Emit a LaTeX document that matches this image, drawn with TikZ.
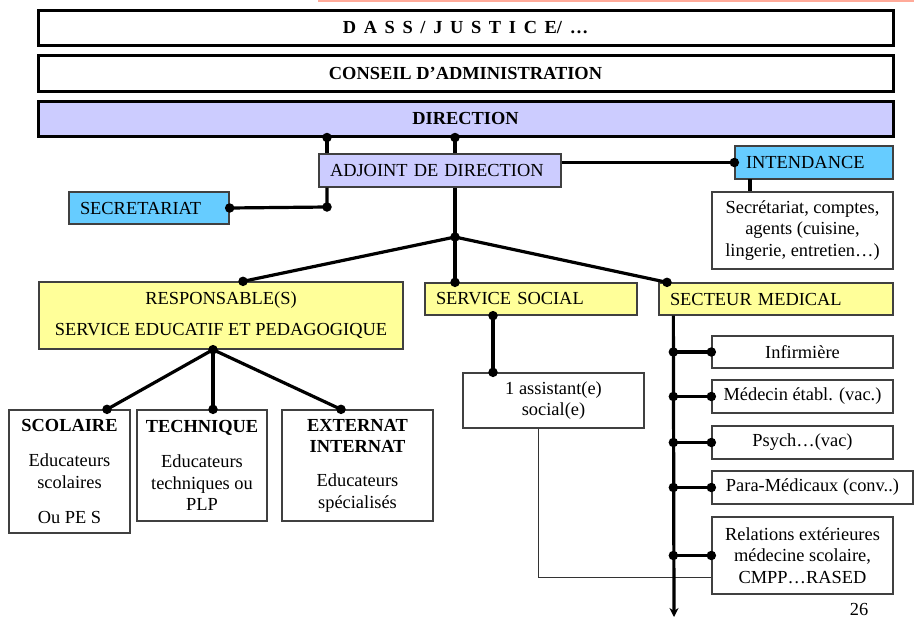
\documentclass[tikz,border=0pt]{standalone}
\usepackage{fontspec}
\setmainfont{Liberation Serif}
\usetikzlibrary{arrows.meta}
\definecolor{lavande}{HTML}{CCCCFF}
\definecolor{ciel}{HTML}{66CCFF}
\definecolor{paille}{HTML}{FFFF99}
\definecolor{saumon}{HTML}{FFAA99}
\tikzset{
  topbox/.style={draw=black, line width=3pt, minimum width=855pt, minimum height=35pt, inner sep=0pt, font=\fontsize{18.4}{21.5}\selectfont\bfseries},
  orgbox/.style={draw=black!75, line width=1.3pt, inner sep=0pt, align=center, font=\fontsize{18.4}{21.5}\selectfont},
  orgleft/.style={orgbox, align=left, inner xsep=11pt},
  conn/.style={line width=3.2pt},
  fine/.style={line width=1pt, black!80},
  jdot/.style={circle, fill=black, inner sep=0pt, minimum size=9.5pt}
}
\begin{document}
\begin{tikzpicture}[x=1pt,y=1pt,yscale=-1,xscale=1]
\useasboundingbox (0,0) rectangle (914,619);

%Straight Lines [top rule]
\draw [saumon, line width=1.5pt] (318,0.8) -- (914,0.8);

% Text Node
\node [topbox] (dass) at (465.5,27.5) {D\,\ A\,\ S\,\ S\,\ /\,\ J\,\ U\,\ S\,\ T\,\ I\,\ C\,\ E/\,\ …};
\node [topbox, minimum height=36pt] (conseil) at (465.5,73) {CONSEIL D’ADMINISTRATION};
\node [topbox, fill=lavande] (dir) at (465.5,118.5) {DIRECTION};

% Text Node
\node [orgleft, fill=lavande, text width=220pt, minimum height=33pt] (adj) at (440,170.5) {ADJOINT DE DIRECTION};
\node [orgleft, fill=ciel, text width=138pt, minimum height=32pt] (secr) at (149,208) {SECRETARIAT};
\node [orgleft, fill=ciel, text width=136pt, minimum height=33pt] (intend) at (814,162.5) {INTENDANCE};
\node [orgbox, minimum width=181pt, minimum height=77pt] (gest) at (802.5,230.5) {Secrétariat, comptes,\\ agents (cuisine,\\ lingerie, entretien…)};

% Text Node
\node [orgbox, fill=paille, minimum width=364pt, minimum height=67pt] (resp) at (221,315.5) {RESPONSABLE(S)\\[9.5pt] SERVICE EDUCATIF ET PEDAGOGIQUE};
\node [orgleft, fill=paille, text width=190pt, minimum height=32pt] (social) at (531,299) {SERVICE SOCIAL};
\node [orgleft, fill=paille, text width=212pt, minimum height=32pt] (medic) at (776,299) {SECTEUR MEDICAL};

% Text Node
\node [orgbox, minimum width=121pt, minimum height=123pt] (scol) at (69.5,471.5) {\textbf{SCOLAIRE}\\[13.5pt] Educateurs\\ scolaires\\[13.5pt] Ou PE S};
\node [orgbox, minimum width=130pt, minimum height=111pt] (tech) at (202,465.5) {\textbf{TECHNIQUE}\\[13.5pt] Educateurs\\ techniques ou\\ PLP};
\node [orgbox, minimum width=151pt, minimum height=111pt] (ext) at (357.5,465.5) {\textbf{EXTERNAT}\\ \textbf{INTERNAT}\\[12.5pt] Educateurs\\ spécialisés};
\node [orgbox, minimum width=181pt, minimum height=55pt] (assist) at (553.5,400.5) {1 assistant(e)\\ social(e)};

% Text Node
\node [orgbox, minimum width=181pt, minimum height=32pt] (infir) at (802.5,352) {Infirmière};
\node [orgbox, minimum width=181pt, minimum height=33pt] (medecin) at (802.5,396.5) {Médecin établ. (vac.)};
\node [orgbox, minimum width=181pt, minimum height=33pt] (psych) at (802.5,442.5) {Psych…(vac)};
\node [orgbox, minimum width=201pt, minimum height=33pt] (para) at (812.5,487.5) {Para-Médicaux (conv..)};
\node [orgbox, minimum width=181pt, minimum height=77pt] (relat) at (802.5,555.5) {Relations extérieures\\ médecine scolaire,\\ CMPP…RASED};
\node [font=\fontsize{18.4}{21.5}\selectfont] (page) at (859,609) {26};

\coordinate (secrknee) at (327,207);
\coordinate (hub) at (455,237);
\coordinate (intendleg) at (750,179);
\coordinate (respfoot) at ([xshift=-8pt]resp.south);
\coordinate (socfoot) at ([xshift=-38pt]social.south);
\coordinate (assistfoot) at ([xshift=-15.5pt]assist.south);
\coordinate (relatlow) at ([yshift=-17pt]relat.south west);
\coordinate (spine) at ([xshift=15pt]medic.south west);
\coordinate (spineend) at (674,617);

%Straight Lines
\draw [conn] (dir.south -| secrknee) node [jdot] {} -- (adj.north -| secrknee);
\draw [conn] (adj.south -| secrknee) -- (secrknee) node [jdot] {} -- (secr.east) node [jdot] {};
\draw [conn] (dir.south -| hub) node [jdot] {} -- (adj.north -| hub);
\draw [conn] (adj.south -| hub) -- (hub);
\draw [conn] (adj.east |- intend.west) -- (intend.west) node [jdot] {};
\draw [conn] (intendleg) -- (intendleg |- gest.north);

%Straight Lines
\draw [conn] (hub) -- ([xshift=22pt]resp.north) node [jdot] {};
\draw [conn] (hub) -- (social.north -| hub) node [jdot] {};
\draw [conn] (hub) -- ([xshift=-109pt]medic.north) node [jdot] {};
\fill (hub) circle (4.75pt);

%Straight Lines
\draw [conn] (respfoot) node [jdot] {} -- ([xshift=37.5pt]scol.north) node [jdot] {};
\draw [conn] (respfoot) -- ([xshift=11pt]tech.north) node [jdot] {};
\draw [conn] (respfoot) -- ([xshift=-16.5pt]ext.north) node [jdot] {};
\draw [conn] (socfoot) node [jdot] {} -- (socfoot |- assist.north) node [jdot] {};

%Straight Lines
\draw [fine] (assistfoot) |- (relatlow);
\draw [conn, -{Stealth[length=9pt,width=9pt]}] (spine) -- (spineend);
\foreach \b in {infir,medecin,psych,para,relat}
  \draw [conn] (spine |- \b.west) node [jdot] {} -- (\b.west) node [jdot] {};
\end{tikzpicture}
\end{document}
